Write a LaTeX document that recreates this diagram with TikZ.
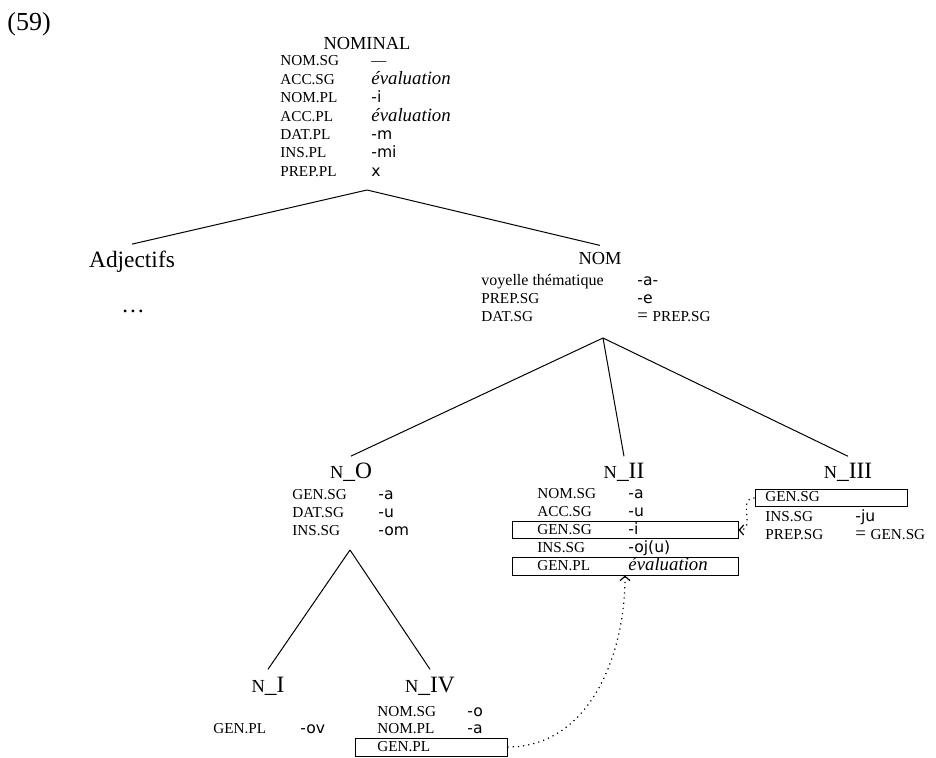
\documentclass[tikz,border=0pt]{standalone}
\usepackage{fontspec}
\setmainfont{Liberation Serif}
\newfontfamily\sufont{DejaVu Sans}
\usetikzlibrary{arrows.meta}
\newcommand{\scN}{{\fontsize{9.2}{11}\selectfont N}}
\newcommand{\scs}[1]{{\fontsize{7.6}{9}\selectfont #1}}
\begin{document}
\begin{tikzpicture}[x=0.5pt,y=-0.5pt,
  treelab/.style={font=\fontsize{11.7}{13}\selectfont, inner sep=3.5pt, anchor=base},
  sctree/.style={font=\fontsize{9.2}{11}\selectfont, inner sep=3.5pt, anchor=base},
  lab/.style={anchor=west, inner sep=0pt, font=\fontsize{7.6}{9}\selectfont, text height=5pt, text depth=1pt},
  val/.style={anchor=west, inner sep=0pt, font=\fontsize{7.8}{9}\selectfont\sufont, text height=5pt, text depth=1pt},
  evl/.style={anchor=west, inner sep=0pt, font=\fontsize{9.4}{10}\selectfont\itshape, text height=5pt, text depth=1pt},
  sval/.style={anchor=west, inner sep=0pt, font=\fontsize{9.4}{10}\selectfont, text height=5pt, text depth=1pt},
  rowbox/.style={draw, line width=0.5pt, inner sep=0pt, minimum height=8.5pt},
  branch/.style={line width=0.5pt},
  link/.style={dotted, line width=0.6pt, -{Straight Barb[length=2.2pt,width=5pt]}}
]
\useasboundingbox (0,0) rectangle (936,758);

\node[anchor=base west, inner sep=0pt, font=\fontsize{13}{15}\selectfont] (ex) at (7,31) {(59)};

% NOMINAL
\node[sctree] (nominal) at (367,50) {NOMINAL};
\node[lab] (a1) at (280,62) {NOM.SG};   \node[sval, font=\fontsize{7.5}{9}\selectfont] (b1) at (371,62) {---};
\node[lab] (a2) at (280,80.4) {ACC.SG}; \node[evl] (b2) at (371,80.4) {évaluation};
\node[lab] (a3) at (280,98.8) {NOM.PL}; \node[val] (b3) at (371,98.8) {-i};
\node[lab] (a4) at (280,117.2) {ACC.PL};\node[evl] (b4) at (371,117.2) {évaluation};
\node[lab] (a5) at (280,135.6) {DAT.PL};\node[val] (b5) at (371,135.6) {-m};
\node[lab] (a6) at (280,154) {INS.PL};\node[val] (b6) at (371,154) {-mi};
\node[lab] (a7) at (280,172.4) {PREP.PL};\node[val] (b7) at (371,172.4) {x};
\coordinate (nominalB) at (367,190);

\node[treelab] (adj) at (132,268) {Adjectifs};
\node[anchor=base, inner sep=0pt, font=\fontsize{11.7}{13}\selectfont] (dots) at (133,313) {\dots};

% NOM
\node[sctree] (nom) at (600,265) {NOM};
\node[lab, font=\fontsize{8}{9}\selectfont] (c1) at (481,282) {voyelle thématique}; \node[val] (d1) at (637,282) {-a-};
\node[lab] (c2) at (481,300) {PREP.SG}; \node[val] (d2) at (637,300) {-e};
\node[lab] (c3) at (481,318) {DAT.SG};  \node[sval] (d3) at (637,318) {= \scs{PREP.SG}};
\coordinate (nomB) at (603,338);

\draw[branch] (nominalB) -- (adj.north);
\draw[branch] (nominalB) -- (nom.north);

% N_O
\node[treelab] (no) at (351,479) {\scN\_O};
\node[lab] (e1) at (292,496) {GEN.SG}; \node[val] (f1) at (378,496) {-a};
\node[lab] (e2) at (292,513.5) {DAT.SG}; \node[val] (f2) at (378,513.5) {-u};
\node[lab] (e3) at (292,531) {INS.SG}; \node[val] (f3) at (378,531) {-om};
\coordinate (noB) at (350,550);

% N_II
\node[treelab] (nii) at (624,479) {\scN\_II};
\node[rowbox, minimum width=113pt] (niigensg) at (625,530) {};
\node[rowbox, minimum width=113pt, minimum height=9pt] (niigenpl) at (625,566) {};
\node[lab] (g1) at (537,495) {NOM.SG}; \node[val] (h1) at (628,495) {-a};
\node[lab] (g2) at (537,512.5) {ACC.SG}; \node[val] (h2) at (628,512.5) {-u};
\node[lab] (g3) at (537,530) {GEN.SG}; \node[val] (h3) at (628,530) {-i};
\node[lab] (g4) at (537,548) {INS.SG}; \node[val] (h4) at (628,548) {-oj(u)};
\node[lab] (g5) at (537,566) {GEN.PL}; \node[evl] (h5) at (628,566) {évaluation};

% N_III
\node[treelab] (niii) at (848,479) {\scN\_III};
\node[rowbox, minimum width=76pt] (niiigensg) at (831,498) {};
\node[lab] (i1) at (765,498) {GEN.SG};
\node[lab] (i2) at (765,517) {INS.SG}; \node[val] (j2) at (855,517) {-ju};
\node[lab] (i3) at (765,535) {PREP.SG}; \node[sval] (j3) at (855,535) {= \scs{GEN.SG}};

\draw[branch] (nomB) -- (no.north);
\draw[branch] (nomB) -- (nii.north);
\draw[branch] (nomB) -- (niii.north);

% N_I
\node[treelab] (ni) at (268,692) {\scN\_I};
\node[lab] (k1) at (213,729) {GEN.PL}; \node[val] (l1) at (300,729) {-ov};

% N_IV
\node[treelab] (niv) at (430,692) {\scN\_IV};
\node[rowbox, minimum width=76pt, minimum height=9pt] (nivgenpl) at (431,747) {};
\node[lab] (m1) at (377,712) {NOM.SG}; \node[val] (o1) at (467,712) {-o};
\node[lab] (m2) at (377,729) {NOM.PL}; \node[val] (o2) at (467,729) {-a};
\node[lab] (m3) at (377,747) {GEN.PL};

\draw[branch] (noB) -- (ni.north);
\draw[branch] (noB) -- (niv.north);

% dotted links
\draw[link] (nivgenpl.east) to[out=0,in=-90] (niigenpl.south);
\draw[link] (niiigensg.west) to[out=180,in=0,looseness=1.3] (niigensg.east);
\end{tikzpicture}
\end{document}
